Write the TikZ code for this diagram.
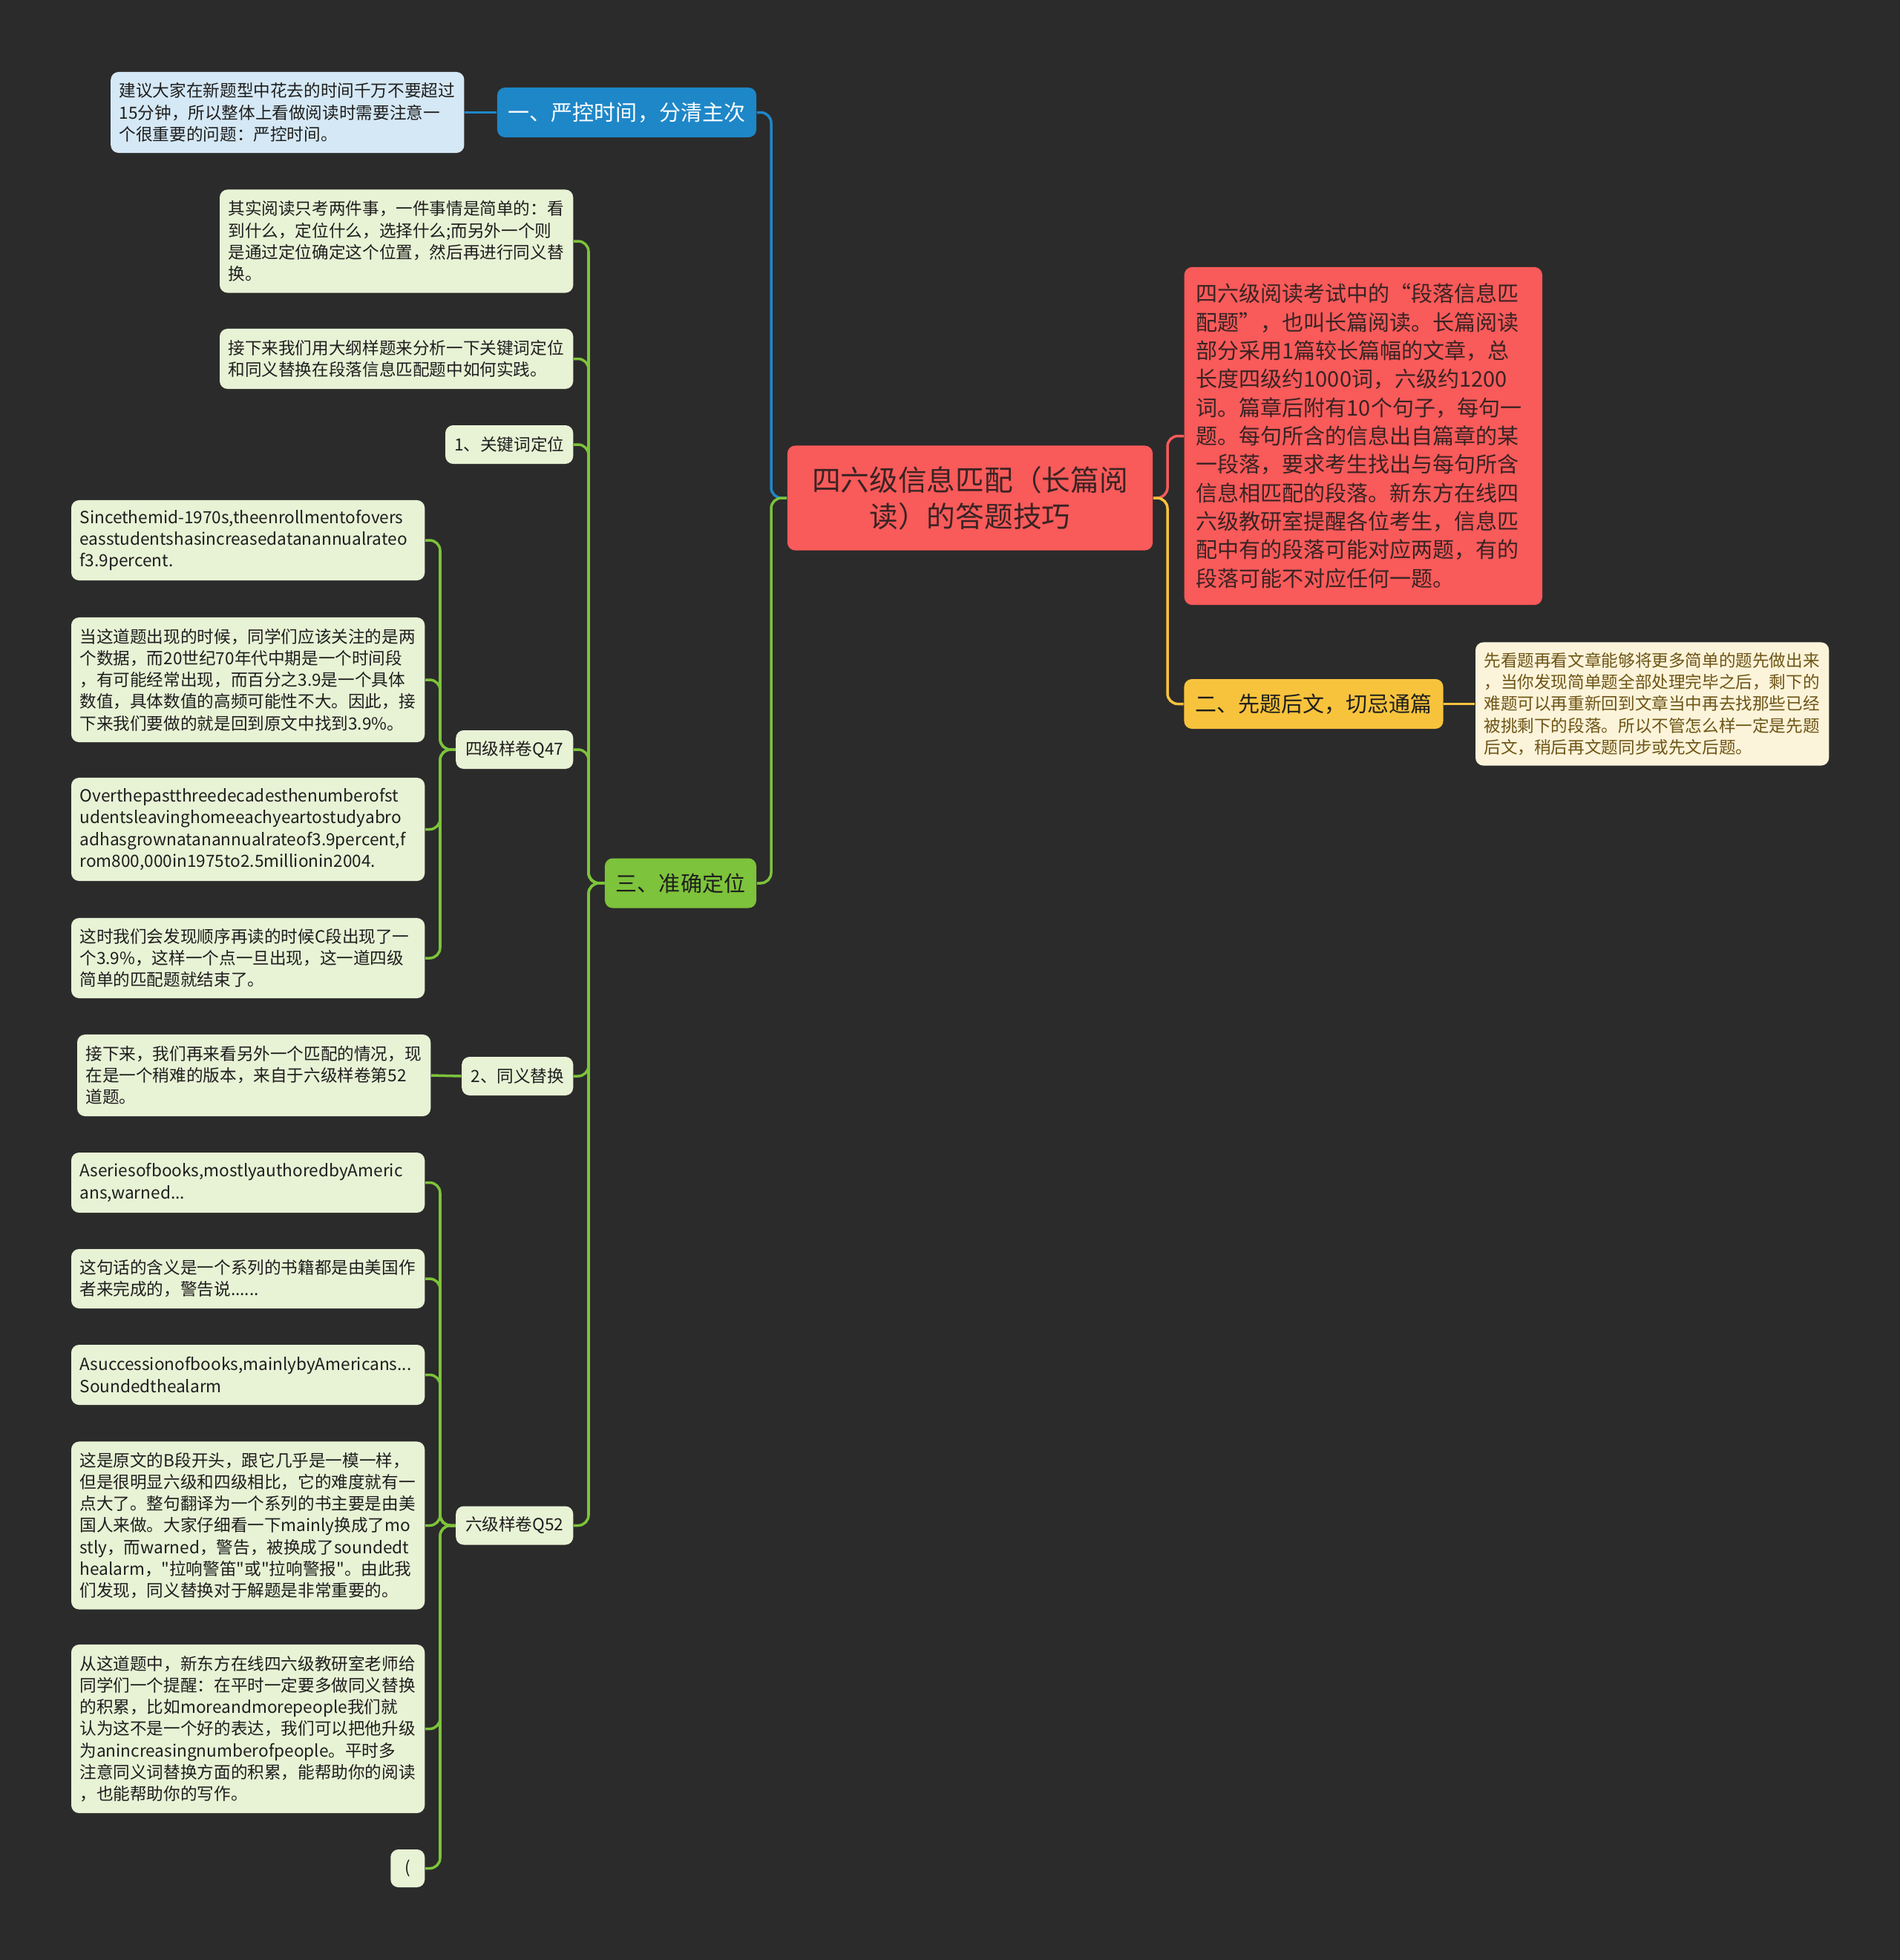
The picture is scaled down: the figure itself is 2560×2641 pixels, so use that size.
\documentclass[tikz,border=0pt]{standalone}
\usepackage{fontspec}
\setmainfont{Noto Sans CJK SC}
\newfontfamily\cjkfont{Noto Sans CJK SC}
\usetikzlibrary{positioning}

\definecolor{bgdark}{HTML}{2B2B2B}
\definecolor{topicred}{HTML}{F95A5A}
\definecolor{topictext}{HTML}{3A2323}
\definecolor{blueline}{HTML}{1E87C8}
\definecolor{bluefill}{HTML}{D5E8F5}
\definecolor{greenline}{HTML}{7DC33B}
\definecolor{greenfill}{HTML}{E8F2D5}
\definecolor{yellowline}{HTML}{F8C33C}
\definecolor{yellowfill}{HTML}{FCF4DA}
\definecolor{yellowtext}{HTML}{6E5516}
\definecolor{darktext}{HTML}{1E1E1E}

\newcommand{\topicfont}{\cjkfont\fontsize{11pt}{13.9pt}\selectfont}
\newcommand{\branchfont}{\cjkfont\fontsize{8.25pt}{10.9pt}\selectfont}
\newcommand{\notefont}{\cjkfont\fontsize{6.43pt}{8.3pt}\selectfont}

\hyphenpenalty=10000
\exhyphenpenalty=10000

\begin{document}
\begin{tikzpicture}[
    x=0.01cm, y=-0.01cm,
    topic/.style={rectangle, fill=topicred, text=topictext, font=\topicfont, align=center, minimum width=4.92cm, minimum height=1.41cm, rounded corners=3pt},
    branch/.style={rectangle, font=\branchfont, text=darktext, inner xsep=0.15cm, minimum height=0.67cm, rounded corners=3pt},
    sub/.style={rectangle, fill=greenfill, text=darktext, font=\notefont, inner xsep=0.12cm, minimum height=0.52cm, rounded corners=3pt, anchor=east},
    note/.style={rectangle, fill=greenfill, text=darktext, font=\notefont, align=left, text width=4.53cm, inner xsep=0.115cm, inner ysep=0pt, rounded corners=3pt, anchor=east},
    bignote/.style={rectangle, fill=topicred, text=topictext, font=\branchfont, align=left, text width=4.5cm, inner xsep=0.16cm, inner ysep=0pt, minimum height=4.55cm, rounded corners=3pt},
    link/.style={line width=1pt, rounded corners=4pt}
]
    \fill[bgdark] (0,0) rectangle (2560,2641);

    \node[topic] (topic) at (1307,671) {四六级信息匹配（长篇阅\\读）的答题技巧};

    \node[branch, fill=blueline, text=white] (b1) at (844.5,151.5) {一、严控时间，分清主次};
    \node[note, fill=bluefill, minimum height=1.09cm, left=0.43cm of b1] (bnote) {建议大家在新题型中花去的时间千万不要超过\\15分钟，所以整体上看做阅读时需要注意一\\个很重要的问题：严控时间。};

    \node[bignote, anchor=west] (rnote) at (1595,587.5) {四六级阅读考试中的“段落信息匹\\配题”，也叫长篇阅读。长篇阅读\\部分采用1篇较长篇幅的文章，总\\长度四级约1000词，六级约1200\\词。篇章后附有10个句子，每句一\\题。每句所含的信息出自篇章的某\\一段落，要求考生找出与每句所含\\信息相匹配的段落。新东方在线四\\六级教研室提醒各位考生，信息匹\\配中有的段落可能对应两题，有的\\段落可能不对应任何一题。};

    \node[branch, fill=yellowline] (b2) at (1770,948.5) {二、先题后文，切忌通篇};
    \node[note, fill=yellowfill, text=yellowtext, minimum height=1.66cm, right=0.42cm of b2] (ynote) {先看题再看文章能够将更多简单的题先做出来\\，当你发现简单题全部处理完毕之后，剩下的\\难题可以再重新回到文章当中再去找那些已经\\被挑剩下的段落。所以不管怎么样一定是先题\\后文，稍后再文题同步或先文后题。};

    \node[branch, fill=greenline] (b3) at (917,1190) {三、准确定位};

    \node[note, minimum height=1.39cm] (g1) at (773,325) {其实阅读只考两件事，一件事情是简单的：看\\到什么，定位什么，选择什么;而另外一个则\\是通过定位确定这个位置，然后再进行同义替\\换。};
    \node[note, minimum height=0.81cm] (g2) at (773,483.5) {接下来我们用大纲样题来分析一下关键词定位\\和同义替换在段落信息匹配题中如何实践。};
    \node[sub, minimum width=1.72cm] (s1) at (773,599) {1、关键词定位};
    \node[sub, minimum width=1.58cm] (s2) at (773,1010) {四级样卷Q47};
    \node[sub, minimum width=1.50cm] (s3) at (773,1450) {2、同义替换};
    \node[sub, minimum width=1.58cm] (s4) at (773,2055.5) {六级样卷Q52};

    \node[note, minimum height=1.08cm] (q1) at (573,728) {Sincethemid-1970s,theenrollmentofovers\\easstudentshasincreasedatanannualrateo\\f3.9percent.};
    \node[note, minimum height=1.68cm] (q2) at (573,916) {当这道题出现的时候，同学们应该关注的是两\\个数据，而20世纪70年代中期是一个时间段\\，有可能经常出现，而百分之3.9是一个具体\\数值，具体数值的高频可能性不大。因此，接\\下来我们要做的就是回到原文中找到3.9\%。};
    \node[note, minimum height=1.39cm] (q3) at (573,1117.5) {Overthepastthreedecadesthenumberofst\\udentsleavinghomeeachyeartostudyabro\\adhasgrownatanannualrateof3.9percent,f\\rom800,000in1975to2.5millionin2004.};
    \node[note, minimum height=1.08cm] (q4) at (573,1291) {这时我们会发现顺序再读的时候C段出现了一\\个3.9\%，这样一个点一旦出现，这一道四级\\简单的匹配题就结束了。};

    \node[note, minimum height=1.10cm] (t1) at (581,1449) {接下来，我们再来看另外一个匹配的情况，现\\在是一个稍难的版本，来自于六级样卷第52\\道题。};

    \node[note, minimum height=0.81cm] (r1) at (573,1593.5) {Aseriesofbooks,mostlyauthoredbyAmeric\\ans,warned...};
    \node[note, minimum height=0.80cm] (r2) at (573,1723) {这句话的含义是一个系列的书籍都是由美国作\\者来完成的，警告说......};
    \node[note, minimum height=0.81cm] (r3) at (573,1852.5) {Asuccessionofbooks,mainlybyAmericans...\\Soundedthealarm};
    \node[note, minimum height=2.26cm] (r4) at (573,2055.5) {这是原文的B段开头，跟它几乎是一模一样，\\但是很明显六级和四级相比，它的难度就有一\\点大了。整句翻译为一个系列的书主要是由美\\国人来做。大家仔细看一下mainly换成了mo\\stly，而warned，警告，被换成了soundedt\\healarm，"拉响警笛"或"拉响警报"。由此我\\们发现，同义替换对于解题是非常重要的。};
    \node[note, minimum height=2.27cm] (r5) at (573,2329.5) {从这道题中，新东方在线四六级教研室老师给\\同学们一个提醒：在平时一定要多做同义替换\\的积累，比如moreandmorepeople我们就\\认为这不是一个好的表达，我们可以把他升级\\为anincreasingnumberofpeople。平时多\\注意同义词替换方面的积累，能帮助你的阅读\\，也能帮助你的写作。};
    \node[sub, minimum width=0.46cm, minimum height=0.51cm] (r6) at (573,2517.5) {(};

    \coordinate (jl) at (1039,671);
    \coordinate (jr) at (1573,671);
    \coordinate (j3) at (793,1190);
    \coordinate (j47) at (593,1010);
    \coordinate (j52) at (593,2055.5);

    \draw[link, blueline] (topic.west) -- (jl) |- (b1.east);
    \draw[link, greenline] (topic.west) -- (jl) |- (b3.east);
    \draw[link, topicred] (topic.east) -- (jr) |- (rnote.west);
    \draw[link, yellowline] (topic.east) -- (jr) |- (b2.west);
    \draw[link, blueline] (b1.west) -- (bnote.east);
    \draw[link, yellowline] (b2.east) -- (ynote.west);
    \foreach \n in {g1,g2,s1,s2,s3,s4}
        \draw[link, greenline] (b3.west) -- (j3) |- (\n.east);
    \foreach \n in {q1,q2,q3,q4}
        \draw[link, greenline] (s2.west) -- (j47) |- (\n.east);
    \draw[link, greenline] (s3.west) -- (t1.east);
    \foreach \n in {r1,r2,r3,r4,r5,r6}
        \draw[link, greenline] (s4.west) -- (j52) |- (\n.east);
\end{tikzpicture}
\end{document}
